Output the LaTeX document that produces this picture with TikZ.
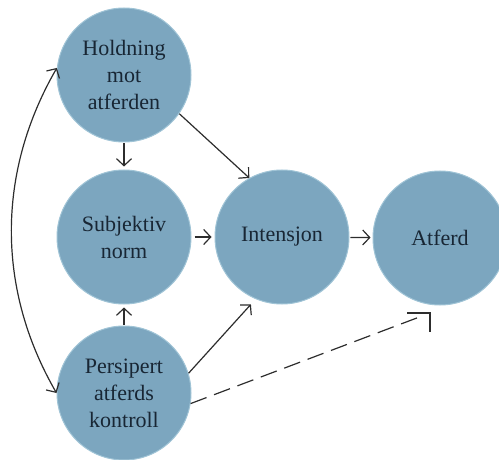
\documentclass[tikz,border=0pt]{standalone}
\usepackage{fontspec}
\setmainfont{Liberation Serif}
\usetikzlibrary{arrows.meta}
\definecolor{circfill}{RGB}{124,166,191}
\definecolor{circline}{RGB}{160,196,214}
\definecolor{textcol}{RGB}{24,38,52}
\definecolor{arrcol}{RGB}{45,45,45}
\begin{document}
\begin{tikzpicture}[x=1pt, y=1pt,
    factor/.style={circle, fill=circfill, draw=circline, line width=1pt, minimum size=134pt, inner sep=0pt,
        align=center, text=textcol, font=\fontsize{22}{27}\selectfont},
    wire/.style={draw=arrcol, line width=1.2pt},
    link/.style={wire, -{Straight Barb[length=7pt, width=15pt]}}]
    \useasboundingbox (0, 0) rectangle (499, 459);
    \node[factor] (hold) at (124, 384) {Holdning\\mot\\atferden};
    \node[factor] (subj) at (124, 222) {Subjektiv\\norm};
    \node[factor] (pers) at (124, 66) {Persipert\\atferds\\kontroll};
    \node[factor] (int) at (282, 222) {Intensjon};
    \node[factor] (atf) at (440, 221) {Atferd};
    \coordinate (dtip) at ([shift={(-10pt,-75pt)}]atf.center);
    \draw[link, shorten <=1pt, shorten >=3pt] (hold) -- (subj);
    \draw[link, shorten <=1pt, shorten >=3pt] (pers) -- (subj);
    \draw[link, shorten <=3pt, shorten >=3pt] (subj) -- (int);
    \draw[link, shorten <=1pt, shorten >=2pt] (int) -- (atf);
    \draw[link] (hold.-35) -- (int.119);
    \draw[link, shorten >=7pt] (pers.17) -- (int.247);
    \draw[wire, dash pattern=on 17pt off 8pt, shorten >=6pt] (pers.-9) -- (dtip);
    \draw[wire] ([xshift=-23pt]dtip) -- (dtip) -- ([yshift=-19pt]dtip);
    \draw[link, {Straight Barb[length=7pt, width=15pt]}-{Straight Barb[length=7pt, width=15pt]}]
        (hold.174) to[out=240, in=120, looseness=0.95] (pers.180);
\end{tikzpicture}
\end{document}
